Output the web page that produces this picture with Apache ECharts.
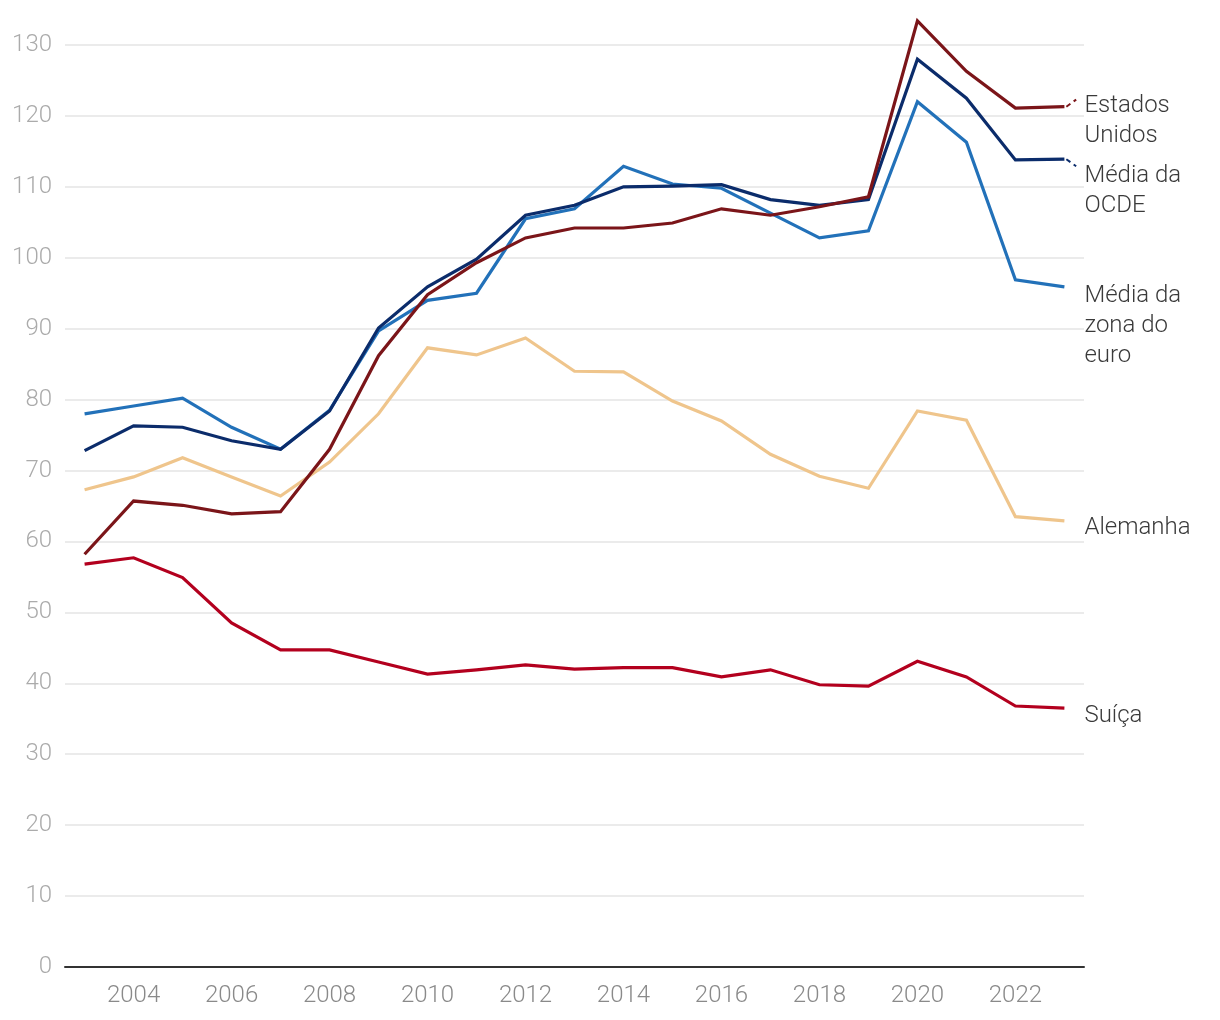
<!DOCTYPE html>
<html>
<head>
<meta charset="utf-8">
<script src="https://cdn.jsdelivr.net/npm/echarts@6/dist/echarts.min.js"></script>
<style>
html,body{margin:0;padding:0;background:#fff;}
#chart{width:1220px;height:1020px;}
</style>
</head>
<body>
<div id="chart"></div>
<script>
const years = [2003,2004,2005,2006,2007,2008,2009,2010,2011,2012,2013,2014,2015,2016,2017,2018,2019,2020,2021,2022,2023];
const xTickYears = [2004,2006,2008,2010,2012,2014,2016,2018,2020,2022];

const estadosUnidos = [58.2,65.7,65.1,63.9,64.2,73.0,86.2,94.8,99.3,102.8,104.2,104.2,104.9,106.9,106.0,107.2,108.6,133.4,126.3,121.1,121.3];
const mediaOCDE = [72.8,76.3,76.1,74.2,73.0,78.4,90.1,95.9,99.8,106.0,107.4,110.0,110.1,110.3,108.2,107.4,108.2,128.0,122.5,113.8,113.9];
const mediaZonaEuro = [78.0,79.1,80.2,76.1,73.0,78.5,89.7,94.0,95.0,105.5,106.9,112.9,110.4,109.8,106.3,102.8,103.8,122.0,116.3,96.9,95.9];
const alemanha = [67.3,69.1,71.8,69.1,66.4,71.2,78.0,87.3,86.3,88.7,84.0,83.9,79.8,77.0,72.3,69.2,67.5,78.4,77.1,63.5,62.9];
const suica = [56.8,57.7,54.9,48.5,44.7,44.7,43.0,41.3,41.9,42.6,42.0,42.2,42.2,40.9,41.9,39.8,39.6,43.1,40.9,36.8,36.5];

const seriesDefs = [
  {name: 'Média da zona do euro', label: 'Média da\nzona do\neuro', data: mediaZonaEuro, color: '#2271b9', dy: 39, leader: 0},
  {name: 'Alemanha', label: 'Alemanha', data: alemanha, color: '#efc58c', dy: 7, leader: 0},
  {name: 'Suíça', label: 'Suíça', data: suica, color: '#b3001e', dy: 8, leader: 0},
  {name: 'Média da OCDE', label: 'Média da\nOCDE', data: mediaOCDE, color: '#0b2c6b', dy: 32, leader: -1},
  {name: 'Estados Unidos', label: 'Estados\nUnidos', data: estadosUnidos, color: '#7b1519', dy: 14, leader: 1}
];

const FONT = 'Roboto';
const chart = echarts.init(document.getElementById('chart'), null, {renderer: 'canvas'});

const series = seriesDefs.map(s => {
  const pts = years.map((y, i) => [y, s.data[i]]);
  const last = pts[pts.length - 1];
  const obj = {
    name: s.name,
    type: 'line',
    data: pts,
    symbol: 'none',
    clip: false,
    lineStyle: {color: s.color, width: 3.2, join: 'miter'},
    itemStyle: {color: s.color},
    emphasis: {disabled: true},
    endLabel: {
      show: true,
      formatter: () => s.label,
      color: '#3a3a3a',
      fontFamily: FONT,
      fontWeight: 300,
      fontSize: 24,
      lineHeight: 30,
      align: 'left',
      verticalAlign: 'middle',
      distance: 20,
      offset: [0, s.dy]
    }
  };
  if (s.leader !== 0) {
    obj.markLine = {
      silent: true,
      symbol: 'none',
      label: {show: false},
      lineStyle: {color: s.color, width: 2, type: [5, 4]},
      data: [[
        {coord: [last[0] + 0.04, last[1]]},
        {coord: [last[0] + 0.24, last[1] + s.leader * 1.0]}
      ]]
    };
  }
  return obj;
});

chart.setOption({
  animation: false,
  backgroundColor: '#ffffff',
  grid: {left: 65, right: 136, top: 45, bottom: 53, containLabel: false},
  xAxis: {
    type: 'value',
    min: 2002.6,
    max: 2023.4,
    axisLine: {show: true, lineStyle: {color: '#333333', width: 2}},
    axisTick: {show: false},
    splitLine: {show: false},
    axisLabel: {
      customValues: xTickYears,
      formatter: v => String(v),
      color: '#8a8a8a',
      fontFamily: FONT,
      fontWeight: 300,
      fontSize: 24,
      margin: 17
    }
  },
  yAxis: {
    type: 'value',
    min: 0,
    max: 130,
    interval: 10,
    axisLine: {show: false},
    axisTick: {show: false},
    splitLine: {show: true, lineStyle: {color: '#e4e4e4', width: 1.5}},
    axisLabel: {
      color: '#ababab',
      fontFamily: FONT,
      fontWeight: 300,
      fontSize: 24,
      margin: 13
    }
  },
  series: series
});
</script>
</body>
</html>
